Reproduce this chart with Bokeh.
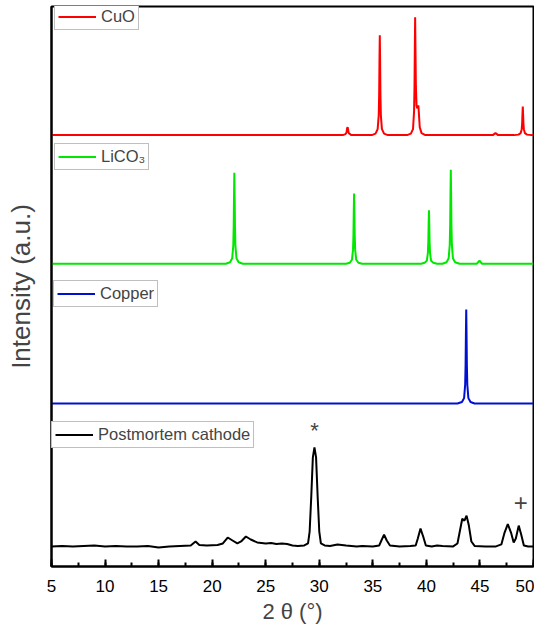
from bokeh.plotting import figure
from bokeh.models import Range1d, Legend, LegendItem, Label, SingleIntervalTicker, FixedTicker
from bokeh.embed import file_html
from bokeh.resources import INLINE

# ---- data (2theta in degrees, intensity in a.u. above each pattern's baseline) ----
cuo_x = [5, 32.2, 32.45, 32.55, 32.6, 32.65, 32.75, 33.0,
         34.9, 35.25, 35.45, 35.55, 35.59, 35.62, 35.65, 35.68, 35.71, 35.75, 35.85, 36.05, 36.4,
         38.2, 38.55, 38.75, 38.85, 38.89, 38.92, 38.95, 38.98, 39.02, 39.08, 39.14, 39.2, 39.25,
         39.3, 39.38, 39.55, 39.9,
         46.2, 46.45, 46.7,
         48.2, 48.6, 48.8, 48.9, 48.94, 48.97, 49.0, 49.03, 49.06, 49.1, 49.2, 49.4, 49.8, 50]
cuo_y = [0, 0, 1, 3, 7, 8, 2, 0,
         0, 1.5, 6, 20, 41, 75, 101, 75, 41, 20, 6, 1.5, 0,
         0, 1.5, 6, 24, 49, 88, 119, 88, 49, 30, 27, 29, 30,
         22, 8, 2, 0,
         0, 2, 0,
         0, 0.5, 2, 6, 12, 21, 29, 21, 12, 6, 2, 0.5, 0, 0]

lico3_x = [5, 21.27, 21.67, 21.87, 21.97, 22.01, 22.04, 22.07, 22.1, 22.13, 22.17, 22.27, 22.47, 22.87,
           32.5, 32.85, 33.05, 33.15, 33.19, 33.22, 33.25, 33.28, 33.31, 33.35, 33.45, 33.65, 34.0,
           39.5, 39.84, 40.04, 40.14, 40.18, 40.21, 40.24, 40.27, 40.3, 40.34, 40.44, 40.64, 41.0,
           41.5, 41.88, 42.08, 42.18, 42.22, 42.25, 42.28, 42.31, 42.34, 42.38, 42.48, 42.68, 43.1,
           44.7, 44.96, 45.2, 50]
lico3_y = [0, 0, 1.5, 5.5, 18, 38, 68, 92, 68, 38, 18, 5.5, 1.5, 0,
           0, 1, 4, 14, 29, 53, 71, 53, 29, 14, 4, 1, 0,
           0, 1, 3, 11, 22, 40, 54, 40, 22, 11, 3, 1, 0,
           0, 1.5, 5.5, 19, 39, 70, 95, 70, 39, 19, 5.5, 1.5, 0,
           0, 3, 0, 0]

copper_x = [5, 42.9, 43.32, 43.52, 43.62, 43.66, 43.69, 43.72, 43.75, 43.78, 43.82, 43.92,
            44.12, 44.5, 50]
copper_y = [0, 0, 1.5, 5.5, 19, 39, 70, 95, 70, 39, 19, 5.5, 1.5, 0, 0]

post_x = [5, 6, 7, 8, 9, 10, 11, 12, 13, 14, 15, 16, 17, 18, 18.45, 18.8, 19.5, 20.5,
          21.0, 21.45, 21.9, 22.35, 22.7, 23.15, 23.6, 24.2, 25.0, 25.5, 26.0, 26.5, 27.0, 27.5,
          28.0, 28.6, 28.95, 29.1, 29.25, 29.4, 29.55, 29.7, 29.85, 30.0, 30.15, 30.5, 31.0,
          31.7, 32.5, 33.5, 34.0, 35.0, 35.6, 35.8, 36.05, 36.3, 36.6, 37.5, 38.5, 39.0, 39.2,
          39.45, 39.7, 39.95, 40.5, 41.0, 41.5, 42.5, 42.9, 43.1, 43.35, 43.55, 43.75, 43.95,
          44.2, 44.5, 45.5, 46.5, 47.0, 47.3, 47.6, 47.9, 48.15, 48.35, 48.62, 48.85, 49.1,
          49.5, 50]
post_y = [0, 0.5, 0, 0.5, 1, 0, 0.5, 0, 0, 0.5, -1, 0, 0.5, 1, 5, 1.5, 1, 1.5,
          3, 9, 6, 3, 5, 10, 7, 4, 3, 3.5, 2.5, 3, 2.5, 1,
          0.5, 1, 3, 15, 50, 90, 100, 90, 50, 15, 3, 1, 0.5,
          2, 1, 0, 0.5, 0, 1, 6, 12, 6, 1, 0, 0.5, 1, 8,
          18, 10, 1, 0, 1, 0.5, 0, 3, 14, 28, 26, 31, 22,
          5, 0.5, 0, 0, 2, 14, 22.5, 14, 4, 8, 21, 12, 1,
          0, 0]

series_names = ["CuO", "LiCO\u2083", "Copper", "Postmortem cathode"]
series_colors = ["#ff0000", "#00e800", "#0010d0", "#000000"]
series_x = [cuo_x, lico3_x, copper_x, post_x]
series_y = [cuo_y, lico3_y, copper_y, post_y]
offsets = [436, 306, 164.7, 20.3]

FONT = "Liberation Sans"

p = figure(width=534, height=626, output_backend="svg", toolbar_location=None,
           x_range=Range1d(5, 50), y_range=Range1d(0, 566),
           min_border_left=51, min_border_right=1, min_border_top=6, min_border_bottom=58)
p.grid.visible = False
p.outline_line_color = "black"
p.outline_line_width = 2
p.background_fill_color = "white"
p.border_fill_color = "white"

# x axis
xa = p.xaxis[0]
xa.ticker = SingleIntervalTicker(interval=5, num_minor_ticks=2)
xa.axis_line_width = 2
xa.major_tick_in = 7
xa.major_tick_out = 0
xa.minor_tick_in = 4
xa.minor_tick_out = 0
xa.major_tick_line_width = 2
xa.minor_tick_line_width = 2
xa.major_label_text_font = FONT
xa.major_label_text_font_size = "17px"
xa.major_label_text_color = "black"
xa.major_label_standoff = 13
xa.axis_label = "2 \u03b8 (\u00b0)"
xa.axis_label_text_font = FONT
xa.axis_label_text_font_style = "normal"
xa.axis_label_text_font_size = "22px"
xa.axis_label_standoff = 4

# y axis
ya = p.yaxis[0]
ya.ticker = FixedTicker(ticks=[])
ya.axis_line_width = 2
ya.major_tick_line_color = None
ya.minor_tick_line_color = None
ya.axis_label = "Intensity (a.u.)"
ya.axis_label_text_font = FONT
ya.axis_label_text_font_style = "normal"
ya.axis_label_text_font_size = "26px"
ya.axis_label_standoff = 16

legend_locs = [(3, 536), (3, 396), (2, 259), (0, 118)]
for name, color, xs, ys, off, loc in zip(series_names, series_colors, series_x, series_y, offsets, legend_locs):
    yy = [v + off for v in ys]
    r = p.line(xs, yy, line_color=color, line_width=2)
    lg = Legend(items=[LegendItem(label=name, renderers=[r])], location=loc,
                margin=0, padding=3, spacing=0, label_standoff=5,
                glyph_width=38, glyph_height=15, label_height=15,
                label_text_font=FONT, label_text_font_size="16.5px",
                border_line_color="#808080", border_line_width=1,
                background_fill_color="white", background_fill_alpha=1)
    p.add_layout(lg)

p.add_layout(Label(x=29.55, y=137, text="*", text_font=FONT, text_font_size="22px",
                   text_align="center", text_baseline="middle"))
p.add_layout(Label(x=48.8, y=65, text="+", text_font=FONT, text_font_size="24px",
                   text_align="center", text_baseline="middle"))

open("out.html", "w").write(file_html(p, INLINE))
